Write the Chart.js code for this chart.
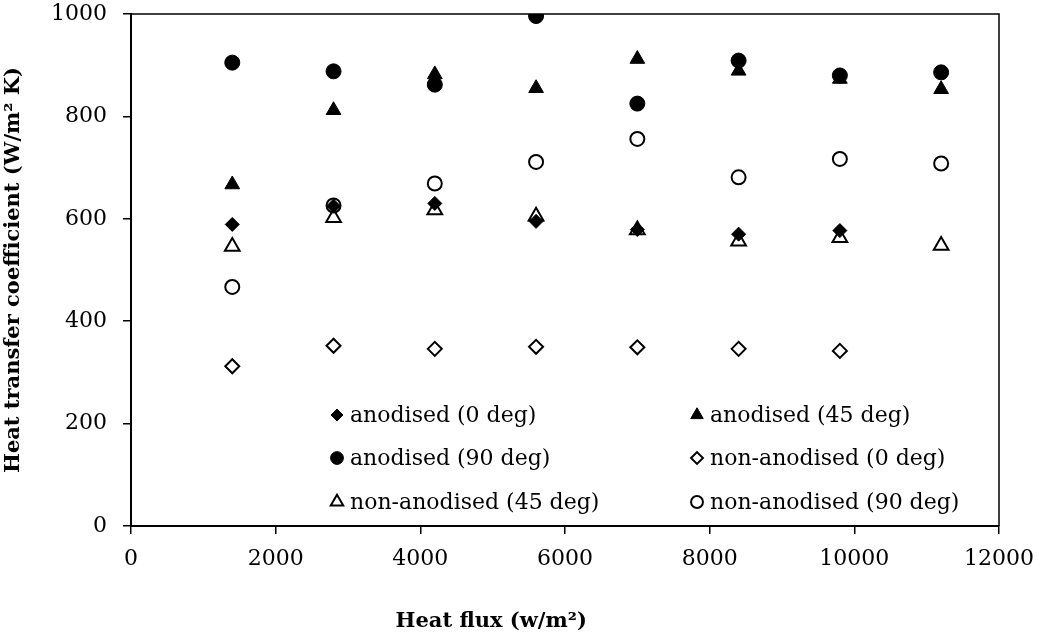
<!DOCTYPE html>
<html>
<head>
<meta charset="utf-8">
<script src="https://cdn.jsdelivr.net/npm/chart.js@4.4.1/dist/chart.umd.min.js"></script>
<style>
  body { margin: 0; background: #fff; }
  canvas { display: block; }
</style>
</head>
<body>
<canvas id="chart" width="1042" height="640"></canvas>
<script>
// heat flux values (w/m2)
const heatFlux = [1400, 2800, 4200, 5600, 7000, 8400, 9800, 11200];

// heat transfer coefficient (W/m2 K)
const anod0   = [589, 625, 630, 595, 579, 570, 577];
const anod45  = [667, 812, 882, 855, 912, 889, 873, 853];
const anod90  = [905, 888, 862, 996, 825, 909, 880, 886];
const nonAn0  = [312, 352, 346, 350, 349, 346, 342];
const nonAn45 = [546, 602, 617, 605, 578, 556, 563, 548];
const nonAn90 = [467, 626, 669, 711, 756, 681, 717, 708];

const seriesNames = ['anodised (0 deg)', 'anodised (45 deg)', 'anodised (90 deg)',
  'non-anodised (0 deg)', 'non-anodised (45 deg)', 'non-anodised (90 deg)'];

const yTicks = [0, 200, 400, 600, 800, 1000];
const xTicks = [0, 2000, 4000, 6000, 8000, 10000, 12000];

const FONT = '"DejaVu Serif", serif';

function pts(vals) {
  return vals.map((v, i) => ({ x: heatFlux[i], y: v }));
}

const styles = [
  { pointStyle: 'rectRot',  r: 7,   fill: '#000' },
  { pointStyle: 'triangle', r: 8.5, fill: '#000' },
  { pointStyle: 'circle',   r: 7.5, fill: '#000' },
  { pointStyle: 'rectRot',  r: 7,   fill: 'rgba(0,0,0,0)' },
  { pointStyle: 'triangle', r: 8.5, fill: 'rgba(0,0,0,0)' },
  { pointStyle: 'circle',   r: 7,   fill: 'rgba(0,0,0,0)' }
];

const allSeries = [anod0, anod45, anod90, nonAn0, nonAn45, nonAn90];

const datasets = allSeries.map((vals, i) => ({
  label: seriesNames[i],
  data: pts(vals),
  pointStyle: styles[i].pointStyle,
  pointRadius: styles[i].r,
  pointHoverRadius: styles[i].r,
  backgroundColor: styles[i].fill,
  borderColor: '#000',
  pointBorderWidth: styles[i].fill === '#000' ? 1 : 2,
  showLine: false,
  order: allSeries.length - i  // later series on top, like the original
}));

// legend inside the plot, two columns, plus box + x title
const extras = {
  id: 'extras',
  afterDraw(chart) {
    const ctx = chart.ctx;
    const a = chart.chartArea;
    ctx.save();
    // top and right frame
    ctx.strokeStyle = '#000';
    ctx.lineWidth = 1.5;
    ctx.beginPath();
    ctx.moveTo(a.left, a.top);
    ctx.lineTo(a.right, a.top);
    ctx.lineTo(a.right, a.bottom);
    ctx.stroke();

    // legend
    const colX = [337, 697];
    const rowY = [415, 458, 502];
    ctx.font = '22px ' + FONT;
    ctx.textBaseline = 'middle';
    ctx.textAlign = 'left';
    chart.data.datasets.forEach((ds, i) => {
      const cx = colX[i % 2], cy = rowY[Math.floor(i / 2)];
      ctx.fillStyle = ds.backgroundColor;
      ctx.strokeStyle = '#000';
      ctx.lineWidth = ds.pointBorderWidth;
      Chart.helpers.drawPoint(ctx, {
        pointStyle: ds.pointStyle,
        radius: ds.pointRadius * 0.85,
        rotation: 0,
        borderWidth: ds.pointBorderWidth
      }, cx, cy);
      ctx.fillStyle = '#000';
      ctx.fillText(ds.label, cx + 13, cy + 1);
    });

    // x axis title (sits left of centre in the original)
    ctx.font = 'bold 21px ' + FONT;
    ctx.textAlign = 'center';
    ctx.fillText('Heat flux (w/m²)', a.left + 0.415 * (a.right - a.left), 622);
    ctx.restore();
  }
};

new Chart(document.getElementById('chart'), {
  type: 'scatter',
  data: { datasets },
  options: {
    responsive: false,
    devicePixelRatio: 1,
    animation: false,
    layout: { padding: 0 },
    plugins: { legend: { display: false }, tooltip: { enabled: false } },
    scales: {
      x: {
        type: 'linear',
        min: 0, max: 12000,
        afterBuildTicks: s => { s.ticks = xTicks.map(v => ({ value: v })); },
        afterFit: s => { s.height = 114; s.paddingRight = 43; },
        grid: { display: true, drawOnChartArea: false, drawTicks: true, tickLength: 8, color: '#000', lineWidth: 1.5 },
        border: { color: '#000', width: 2 },
        ticks: { color: '#000', font: { family: FONT, size: 22 }, padding: 12, maxRotation: 0,
                 callback: v => String(v) }
      },
      y: {
        min: 0, max: 1000,
        afterBuildTicks: s => { s.ticks = yTicks.map(v => ({ value: v })); },
        afterFit: s => { s.width = 131; s.paddingTop = 14; s.paddingBottom = 0; },
        grid: { display: true, drawOnChartArea: false, drawTicks: true, tickLength: 8, color: '#000', lineWidth: 1.5 },
        border: { color: '#000', width: 2 },
        ticks: { color: '#000', font: { family: FONT, size: 22 }, padding: 16,
                 callback: v => String(v) },
        title: {
          display: true,
          text: 'Heat transfer coefficient (W/m² K)',
          color: '#000',
          font: { family: FONT, size: 21, weight: 'bold' },
          padding: { top: 1, bottom: 0 }
        }
      }
    }
  },
  plugins: [extras]
});
</script>
</body>
</html>
